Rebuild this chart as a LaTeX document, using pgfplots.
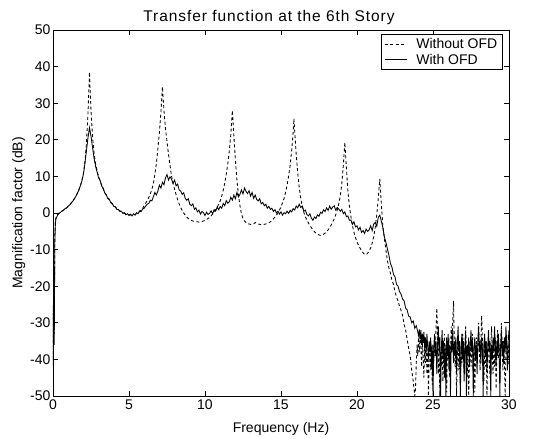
\documentclass[border=0pt]{standalone}
\usepackage{fontspec}
\setmainfont{Liberation Sans}
\newfontfamily\titlefont[LetterSpace=6]{Liberation Sans}
\usepackage{pgfplots}
\pgfplotsset{compat=1.18}

\begin{document}
\begin{tikzpicture}
% fixed page frame around the plot box
\path[use as bounding box] (-53pt,-43pt) rectangle (497pt,396pt);
\begin{axis}[
  scale only axis,
  width=456pt, height=366pt,
  at={(0pt,0pt)}, anchor=south west,
  xmin=0, xmax=30, ymin=-50, ymax=50,
  xtick={0,5,...,30}, ytick={-50,-40,...,50},
  tick align=inside, major tick length=5pt,
  xtick pos=both, ytick pos=both,
  axis line style={line width=0.7pt},
  every tick/.style={black, line width=0.7pt},
  /pgf/number format/assume math mode=true,
  tick label style={font=\fontsize{14}{16}\selectfont},
  xticklabel style={yshift=0pt},
  yticklabel style={xshift=1pt},
  label style={font=\fontsize{14}{16}\selectfont},
  xlabel={Frequency (Hz)},
  ylabel={Magnification factor (dB)},
  xlabel style={yshift=-6pt},
  ylabel style={yshift=-2pt},
  title={\titlefont Transfer function at the 6th Story},
  title style={font=\fontsize{15.5}{17}\selectfont, yshift=-4pt, xshift=-12pt},
  legend style={at={(rel axis cs:0.986,0.988)}, anchor=north east,
    draw=black, line width=0.7pt, font=\fontsize{14}{16}\selectfont,
    inner xsep=3pt, inner ysep=1.5pt, row sep=0pt, /tikz/column sep=7pt},
  legend cell align=left,
  legend image code/.code={\draw[#1] (0pt,0pt) -- (22pt,0pt);},
]
% response without the damper
\addplot[black, line width=0.85pt, dash pattern=on 3pt off 2.5pt] coordinates {
(0,-40) (0.04,-22) (0.08,-33) (0.12,-6) (0.16,-2) (0.2,-1.2) (0.3,-0.4) (0.4,0) (0.5,0.2)
(0.6,0.5) (0.7,0.8) (0.8,1.1) (0.9,1.4) (1.0,1.8) (1.1,2.2) (1.2,2.7) (1.3,3.2) (1.4,3.8)
(1.5,4.5) (1.6,5.3) (1.7,6.3) (1.8,7.4) (1.9,8.8) (2.0,10.8) (2.1,14.0) (2.2,19.0) (2.3,27.0)
(2.4,38.5) (2.5,28.0) (2.6,21.0) (2.7,16.5) (2.8,13.5) (2.9,11.5) (3.0,10.0) (3.1,8.8) (3.2,7.6)
(3.3,6.6) (3.4,5.7) (3.5,4.9) (3.6,4.2) (3.7,3.6) (3.8,3.0) (3.9,2.5) (4.0,2.0) (4.1,1.6)
(4.2,1.2) (4.3,0.9) (4.4,0.6) (4.5,0.3) (4.6,0.1) (4.7,-0.1) (4.8,-0.3) (4.9,-0.4) (5.0,-0.5)
(5.1,-0.5) (5.2,-0.6) (5.3,-0.5) (5.4,-0.4) (5.5,-0.2) (5.6,0.1) (5.7,0.4) (5.8,0.8) (5.9,1.3)
(6.0,2.0) (6.1,2.7) (6.2,3.4) (6.3,4.2) (6.4,5.2) (6.5,6.4) (6.6,8.0) (6.7,10.5) (6.8,13.5)
(6.9,17.5) (7.0,22.0) (7.1,27.5) (7.2,34.5) (7.3,28.0) (7.4,23.0) (7.5,19.5) (7.6,16.0)
(7.7,13.0) (7.8,10.0) (7.9,8.0) (8.0,6.5) (8.1,5.0) (8.2,3.6) (8.3,2.5) (8.4,1.5) (8.5,0.7)
(8.6,0.0) (8.7,-0.6) (8.8,-1.1) (8.9,-1.5) (9.0,-1.8) (9.1,-2.0) (9.2,-2.2) (9.3,-2.3)
(9.4,-2.4) (9.5,-2.4) (9.6,-2.5) (9.7,-2.4) (9.8,-2.3) (9.9,-2.2) (10.0,-2.0) (10.1,-1.8)
(10.2,-1.5) (10.3,-1.2) (10.4,-0.8) (10.5,-0.3) (10.6,0.3) (10.7,0.9) (10.8,1.6) (10.9,2.4)
(11.0,3.3) (11.1,4.6) (11.2,6.2) (11.3,8.2) (11.4,10.6) (11.5,13.5) (11.6,17.0) (11.7,21.5)
(11.8,28.0) (11.9,21.0) (12.0,14.5) (12.1,9.0) (12.2,5.0) (12.3,2.0) (12.4,-0.3) (12.5,-1.5)
(12.6,-2.2) (12.7,-2.6) (12.8,-2.9) (12.9,-3.0) (13.0,-3.1) (13.1,-3.1) (13.2,-3.0)
(13.3,-2.6) (13.4,-2.8) (13.5,-3.0) (13.6,-3.1) (13.7,-3.2) (13.8,-3.2) (13.9,-3.1)
(14.0,-3.0) (14.1,-2.9) (14.2,-2.7) (14.3,-2.4) (14.4,-2.0) (14.5,-1.6) (14.6,-1.1)
(14.7,-0.6) (14.8,0.0) (14.9,0.8) (15.0,1.7) (15.1,2.8) (15.2,4.0) (15.3,5.6) (15.4,7.6)
(15.5,10.0) (15.6,13.0) (15.7,17.0) (15.8,22.0) (15.85,25.8) (15.9,22.5) (16.0,16.0)
(16.1,11.0) (16.2,7.0) (16.3,4.0) (16.4,1.8) (16.5,0.2) (16.6,-1.0) (16.7,-1.9) (16.8,-2.7)
(16.9,-3.4) (17.0,-4.0) (17.1,-4.6) (17.2,-5.1) (17.3,-5.5) (17.4,-5.8) (17.5,-6.0)
(17.6,-6.1) (17.7,-6.0) (17.8,-5.8) (17.9,-5.5) (18.0,-5.1) (18.1,-4.6) (18.2,-4.0)
(18.3,-3.3) (18.4,-2.5) (18.5,-1.6) (18.6,-0.5) (18.7,0.8) (18.8,2.5) (18.9,4.6) (19.0,8.0)
(19.1,13.0) (19.2,19.3) (19.3,12.5) (19.4,6.0) (19.5,1.9) (19.6,-1.0) (19.7,-3.5) (19.8,-5.3)
(19.9,-6.7) (20.0,-7.9) (20.1,-8.8) (20.2,-9.6) (20.3,-10.3) (20.4,-10.9) (20.5,-11.3)
(20.6,-11.4) (20.7,-11.0) (20.8,-10.4) (20.9,-9.5) (21.0,-8.2) (21.1,-6.5) (21.2,-4.0)
(21.3,-0.5) (21.4,4.0) (21.5,9.3) (21.6,2.5) (21.7,-3.5) (21.8,-7.0) (21.9,-10.0) (22.0,-13.0)
(22.1,-15.0) (22.2,-16.5) (22.3,-18.4) (22.4,-19.5) (22.5,-21.5) (22.6,-23.0) (22.7,-24.0)
(22.8,-25.5) (22.9,-26.6) (23.0,-28.0) (23.1,-30.5) (23.2,-32.0) (23.3,-34.5) (23.4,-37.0)
(23.5,-39.0) (23.6,-43.0) (23.7,-46.0) (23.8,-50.0)
(23.85,-48) (23.9,-41) (23.95,-36) (24.0,-39) (24.05,-34) (24.1,-38) (24.15,-33) (24.2,-37)
(24.25,-42) (24.3,-35) (24.35,-39) (24.4,-45) (24.45,-37) (24.5,-41) (24.55,-36) (24.6,-44)
(24.65,-38) (24.7,-50) (24.75,-40) (24.8,-35) (24.85,-43) (24.9,-38) (24.95,-47) (25.0,-36)
(25.05,-41) (25.1,-34) (25.15,-39) (25.2,-31) (25.25,-26) (25.3,-33) (25.35,-44) (25.4,-37)
(25.45,-50) (25.5,-38) (25.55,-42) (25.6,-35) (25.65,-46) (25.7,-39) (25.75,-33) (25.8,-41)
(25.85,-37) (25.9,-49) (25.95,-36) (26.0,-40) (26.05,-34) (26.1,-45) (26.15,-38) (26.2,-31)
(26.25,-36) (26.3,-29) (26.35,-24) (26.4,-35) (26.45,-42) (26.5,-37) (26.55,-50) (26.6,-39)
(26.65,-34) (26.7,-43) (26.75,-38) (26.8,-47) (26.85,-36) (26.9,-41) (26.95,-33) (27.0,-38)
(27.05,-44) (27.1,-36) (27.15,-31) (27.2,-39) (27.25,-45) (27.3,-37) (27.35,-50) (27.4,-40)
(27.45,-35) (27.5,-42) (27.55,-38) (27.6,-33) (27.65,-44) (27.7,-37) (27.75,-49) (27.8,-39)
(27.85,-34) (27.9,-41) (27.95,-36) (28.0,-30) (28.05,-38) (28.1,-43) (28.15,-35) (28.2,-28)
(28.25,-34) (28.3,-40) (28.35,-46) (28.4,-37) (28.45,-42) (28.5,-35) (28.55,-50) (28.6,-39)
(28.65,-33) (28.7,-40) (28.75,-45) (28.8,-36) (28.85,-31) (28.9,-38) (28.95,-44) (29.0,-37)
(29.05,-42) (29.1,-34) (29.15,-48) (29.2,-38) (29.25,-32) (29.3,-40) (29.35,-36) (29.4,-45)
(29.45,-39) (29.5,-30) (29.55,-37) (29.6,-43) (29.65,-35) (29.7,-41) (29.75,-50) (29.8,-38)
(29.85,-33) (29.9,-40) (29.95,-36) (30.0,-42)
};
\addlegendentry{Without OFD}
% response with the damper
\addplot[black, line width=0.85pt] coordinates {
(0,-42) (0.04,-18) (0.08,-36) (0.12,-8) (0.16,-2.5) (0.2,-1.5) (0.3,-0.6) (0.4,-0.1) (0.5,0.2)
(0.6,0.6) (0.7,0.8) (0.8,1.2) (0.9,1.4) (1.0,1.9) (1.1,2.2) (1.2,2.8) (1.3,3.2) (1.4,3.9)
(1.5,4.5) (1.6,5.4) (1.7,6.2) (1.8,7.5) (1.9,8.7) (2.0,10.6) (2.1,13.5) (2.2,17.0) (2.3,20.5)
(2.4,23.3) (2.5,21.0) (2.6,18.0) (2.7,15.0) (2.8,12.8) (2.9,11.2) (3.0,9.6) (3.1,8.9) (3.2,7.4)
(3.3,6.8) (3.4,5.5) (3.5,5.0) (3.6,4.0) (3.7,3.8) (3.8,2.8) (3.9,2.6) (4.0,1.8) (4.1,1.7)
(4.2,1.0) (4.3,1.0) (4.4,0.4) (4.5,0.5) (4.6,-0.1) (4.7,0.1) (4.8,-0.5) (4.9,-0.2) (5.0,-0.7)
(5.1,-0.3) (5.2,-0.8) (5.3,-0.2) (5.4,-0.6) (5.5,0.1) (5.6,-0.2) (5.7,0.6) (5.8,0.4) (5.9,1.1)
(6.0,1.3) (6.1,1.9) (6.2,2.4) (6.3,2.6) (6.4,3.5) (6.5,3.3) (6.6,4.4) (6.7,5.6) (6.8,4.9)
(6.9,6.0) (7.0,7.6) (7.1,6.8) (7.2,8.4) (7.3,7.7) (7.4,9.6) (7.5,10.5) (7.6,9.0) (7.7,9.9)
(7.8,9.2) (7.9,8.1) (8.0,9.0) (8.1,7.4) (8.2,7.9) (8.3,6.3) (8.4,6.0) (8.5,5.1) (8.6,5.5)
(8.7,4.0) (8.8,3.5) (8.9,3.9) (9.0,2.4) (9.1,2.0) (9.2,2.5) (9.3,1.0) (9.4,1.4) (9.5,0.3)
(9.6,0.8) (9.7,-0.3) (9.8,0.4) (9.9,0.1) (10.0,-0.7) (10.1,0.2) (10.2,-0.4) (10.3,-0.1)
(10.4,0.6) (10.5,-0.2) (10.6,0.9) (10.7,0.5) (10.8,1.6) (10.9,0.9) (11.0,1.8) (11.1,1.3)
(11.2,2.6) (11.3,2.0) (11.4,3.4) (11.5,2.7) (11.6,3.1) (11.7,4.3) (11.8,3.5) (11.9,4.9)
(12.0,3.9) (12.1,5.6) (12.2,4.4) (12.3,5.1) (12.4,6.3) (12.5,5.2) (12.6,6.8) (12.7,5.9)
(12.8,5.3) (12.9,6.1) (13.0,4.6) (13.1,5.6) (13.2,4.0) (13.3,4.9) (13.4,3.7) (13.5,3.3)
(13.6,3.9) (13.7,2.5) (13.8,2.9) (13.9,2.0) (14.0,2.4) (14.1,1.3) (14.2,1.8) (14.3,1.0)
(14.4,1.3) (14.5,0.4) (14.6,0.9) (14.7,0.0) (14.8,0.5) (14.9,-0.3) (15.0,0.3) (15.1,-0.6)
(15.2,0.1) (15.3,-0.2) (15.4,0.5) (15.5,-0.1) (15.6,0.7) (15.7,0.3) (15.8,1.2) (15.9,0.8)
(16.0,1.9) (16.1,1.4) (16.2,2.4) (16.3,1.5) (16.4,1.9) (16.5,0.5) (16.6,0.8) (16.7,-0.4)
(16.8,-0.8) (16.9,-0.2) (17.0,-1.4) (17.1,-2.0) (17.2,-1.1) (17.3,-1.5) (17.4,-0.5) (17.5,-0.9)
(17.6,0.2) (17.7,-0.1) (17.8,0.9) (17.9,0.4) (18.0,1.4) (18.1,0.7) (18.2,1.9) (18.3,1.0)
(18.4,1.6) (18.5,2.0) (18.6,0.8) (18.7,1.5) (18.8,1.1) (18.9,0.5) (19.0,1.0) (19.1,-0.2)
(19.2,0.3) (19.3,-1.0) (19.4,-0.8) (19.5,-2.0) (19.6,-1.9) (19.7,-3.1) (19.8,-2.4) (19.9,-3.8)
(20.0,-3.5) (20.1,-4.6) (20.2,-3.9) (20.3,-5.3) (20.4,-4.8) (20.5,-5.6) (20.6,-4.4) (20.7,-5.0)
(20.8,-4.6) (20.9,-3.5) (21.0,-4.8) (21.1,-3.0) (21.2,-2.6) (21.3,-3.6) (21.4,-1.2) (21.5,-0.6)
(21.6,-2.2) (21.7,-4.0) (21.8,-6.5) (21.9,-8.0) (22.0,-9.8) (22.1,-11.5) (22.2,-13.8)
(22.3,-14.8) (22.4,-16.8) (22.5,-17.4) (22.6,-19.5) (22.7,-20.0) (22.8,-21.5) (22.9,-22.2)
(23.0,-23.5) (23.1,-24.0) (23.2,-26.0) (23.3,-26.5) (23.4,-28.2) (23.5,-28.4) (23.6,-30.0)
(23.7,-29.5) (23.8,-31.5) (23.9,-30.8) (24.0,-32.5)
(24.05,-33.5) (24.1,-31.8) (24.15,-34.5) (24.2,-32.0) (24.25,-36) (24.3,-33) (24.35,-35.5)
(24.4,-32.5) (24.45,-37) (24.5,-34) (24.55,-38) (24.6,-33) (24.65,-36.5) (24.7,-40) (24.75,-35)
(24.8,-38) (24.85,-34) (24.9,-42) (24.95,-36) (25.0,-50) (25.05,-37) (25.1,-33) (25.15,-39)
(25.2,-35) (25.25,-44) (25.3,-36) (25.35,-31) (25.4,-38) (25.45,-34) (25.5,-50) (25.55,-37)
(25.6,-32) (25.65,-40) (25.7,-35) (25.75,-45) (25.8,-36) (25.85,-50) (25.9,-34) (25.95,-39)
(26.0,-33) (26.05,-43) (26.1,-36) (26.15,-50) (26.2,-35) (26.25,-38) (26.3,-32) (26.35,-41)
(26.4,-35) (26.45,-39) (26.5,-34) (26.55,-44) (26.6,-36) (26.65,-31) (26.7,-38) (26.75,-35)
(26.8,-50) (26.85,-37) (26.9,-33) (26.95,-40) (27.0,-35) (27.05,-46) (27.1,-37) (27.15,-33)
(27.2,-50) (27.25,-36) (27.3,-39) (27.35,-34) (27.4,-42) (27.45,-36) (27.5,-32) (27.55,-38)
(27.6,-35) (27.65,-50) (27.7,-37) (27.75,-34) (27.8,-40) (27.85,-36) (27.9,-44) (27.95,-35)
(28.0,-31) (28.05,-38) (28.1,-35) (28.15,-41) (28.2,-34) (28.25,-37) (28.3,-50) (28.35,-36)
(28.4,-33) (28.45,-39) (28.5,-35) (28.55,-43) (28.6,-37) (28.65,-32) (28.7,-38) (28.75,-35)
(28.8,-50) (28.85,-36) (28.9,-40) (28.95,-34) (29.0,-38) (29.05,-31) (29.1,-37) (29.15,-42)
(29.2,-35) (29.25,-39) (29.3,-33) (29.35,-37) (29.4,-50) (29.45,-36) (29.5,-32) (29.55,-39)
(29.6,-35) (29.65,-41) (29.7,-34) (29.75,-38) (29.8,-31) (29.85,-37) (29.9,-43) (29.95,-35)
(30.0,-32)
};
\addlegendentry{With OFD}
\end{axis}
\end{tikzpicture}
\end{document}
